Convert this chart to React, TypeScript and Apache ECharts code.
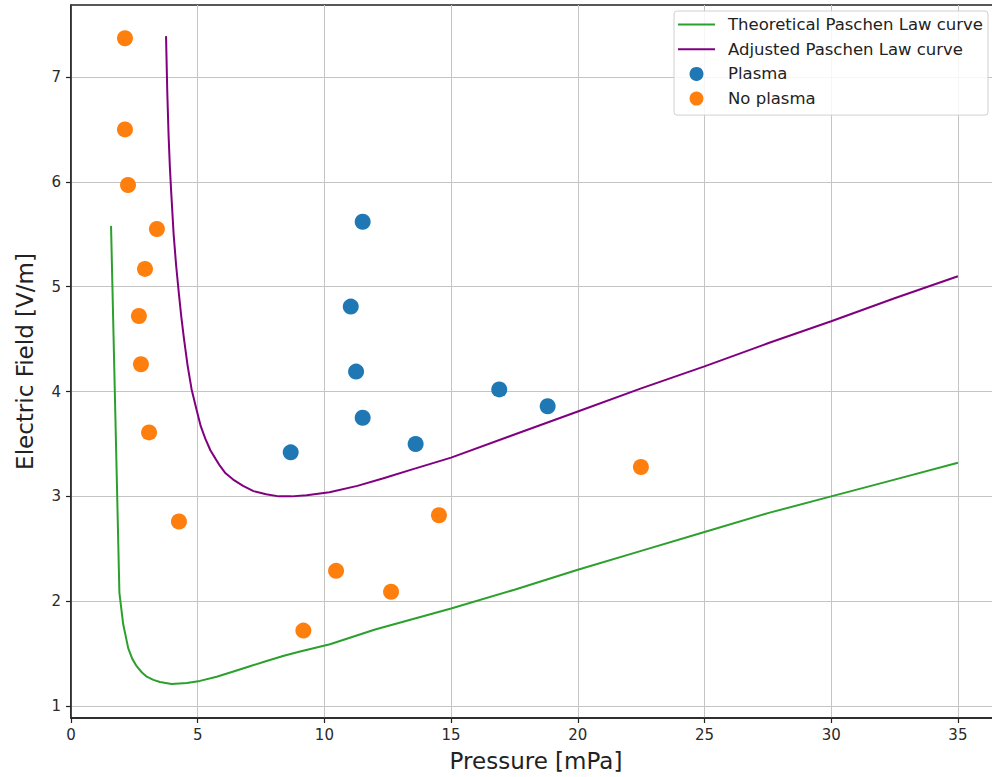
import React, { useEffect, useRef } from "react";
import * as echarts from "echarts";

// Theoretical Paschen Law curve (pressure in mPa, field in V/m)
const theoreticalX = [1.58, 1.91, 2.06, 2.26, 2.42, 2.59, 2.8, 2.99, 3.25, 3.51, 3.97, 4.57, 5.09, 5.75, 6.41, 7.06, 7.72, 8.4, 9.04, 10.22, 12.0, 15.0, 17.5, 20.0, 22.5, 25.0, 27.5, 30.0, 32.5, 35.0];
const theoreticalY = [5.58, 2.08, 1.78, 1.55, 1.45, 1.38, 1.32, 1.28, 1.25, 1.23, 1.21, 1.22, 1.24, 1.28, 1.33, 1.38, 1.43, 1.48, 1.52, 1.59, 1.73, 1.93, 2.11, 2.3, 2.48, 2.66, 2.84, 3.0, 3.16, 3.32];

// Adjusted Paschen Law curve
const adjustedX = [3.75, 3.8, 3.85, 3.9, 3.95, 4.05, 4.15, 4.25, 4.35, 4.45, 4.6, 4.76, 4.95, 5.12, 5.3, 5.5, 5.7, 5.88, 6.1, 6.4, 6.79, 7.2, 7.7, 8.2, 8.7, 9.3, 10.2, 11.3, 12.3, 13.5, 15.0, 17.5, 20.0, 22.5, 25.0, 27.5, 30.0, 32.5, 35.0];
const adjustedY = [7.39, 6.85, 6.45, 6.15, 5.92, 5.5, 5.2, 4.95, 4.72, 4.52, 4.25, 4.02, 3.83, 3.67, 3.55, 3.44, 3.36, 3.29, 3.22, 3.16, 3.1, 3.05, 3.02, 3.0, 3.0, 3.01, 3.04, 3.1, 3.17, 3.26, 3.37, 3.59, 3.81, 4.03, 4.24, 4.46, 4.67, 4.89, 5.1];

// Plasma observations
const plasmaX = [11.51, 11.04, 11.25, 11.51, 8.67, 13.6, 16.9, 18.81];
const plasmaY = [5.62, 4.81, 4.19, 3.75, 3.42, 3.5, 4.02, 3.86];

// No plasma observations
const noPlasmaX = [2.13, 2.13, 2.25, 3.39, 2.92, 2.68, 2.76, 3.08, 4.26, 9.17, 10.46, 12.63, 14.52, 22.49];
const noPlasmaY = [7.37, 6.5, 5.97, 5.55, 5.17, 4.72, 4.26, 3.61, 2.76, 1.72, 2.29, 2.09, 2.82, 3.28];

const seriesNames = ["Theoretical Paschen Law curve", "Adjusted Paschen Law curve", "Plasma", "No plasma"];

const xTicks = [0, 5, 10, 15, 20, 25, 30, 35];
const yTicks = [1, 2, 3, 4, 5, 6, 7];

const xTitle = "Pressure [mPa]";
const yTitle = "Electric Field [V/m]";

const FONT = "DejaVu Sans";

const zip = (xs: number[], ys: number[]) => xs.map((x, i) => [x, ys[i]]);

export default function App() {
  const ref = useRef<HTMLDivElement>(null);
  useEffect(() => {
    if (!ref.current) return;
    const chart = echarts.init(ref.current, undefined, { renderer: "svg" });
    const lineIcon = "path://M0,0H37V2H0Z";
    const tickStyle = { color: "#222", width: 1.2 };
    chart.setOption({
      animation: false,
      backgroundColor: "#ffffff",
      textStyle: { fontFamily: FONT },
      grid: {
        left: 71,
        top: 5,
        bottom: 57,
        right: 0,
        show: true,
        borderColor: "#222",
        borderWidth: 1.5,
        backgroundColor: "transparent",
      },
      legend: {
        orient: "vertical",
        left: 674,
        top: 11,
        itemWidth: 37,
        itemHeight: 14,
        itemGap: 7.7,
        padding: [5, 5, 8, 4],
        backgroundColor: "rgba(255,255,255,0.85)",
        borderColor: "#d0d0d0",
        borderWidth: 1,
        borderRadius: 3,
        textStyle: { fontSize: 16.5, color: "#222", fontFamily: FONT, padding: [0, 0, 0, 8] },
        data: [
          { name: seriesNames[0], icon: lineIcon },
          { name: seriesNames[1], icon: lineIcon },
          { name: seriesNames[2], icon: "circle" },
          { name: seriesNames[3], icon: "circle" },
        ],
      },
      xAxis: {
        type: "value",
        min: 0,
        max: 36.7,
        name: xTitle,
        nameLocation: "middle",
        nameGap: 31,
        nameTextStyle: { fontSize: 23, color: "#222", fontFamily: FONT },
        axisLine: { show: true, onZero: false, lineStyle: { color: "#222", width: 1.5 } },
        axisTick: { show: true, length: 5, inside: false, lineStyle: tickStyle, customValues: xTicks },
        axisLabel: {
          fontSize: 15,
          color: "#2a2a2a",
          margin: 9,
          fontFamily: FONT,
          customValues: xTicks,
          formatter: (v: number) => String(v),
        },
        splitLine: { show: true, lineStyle: { color: "#c4c4c4", width: 1 } },
      },
      yAxis: {
        type: "value",
        min: 0.886,
        max: 7.687,
        name: yTitle,
        nameLocation: "middle",
        nameGap: 35,
        nameTextStyle: { fontSize: 23, color: "#222", fontFamily: FONT },
        axisLine: { show: true, onZero: false, lineStyle: { color: "#222", width: 1.5 } },
        axisTick: { show: true, length: 5, inside: false, lineStyle: tickStyle, customValues: yTicks },
        axisLabel: {
          fontSize: 15,
          color: "#2a2a2a",
          margin: 10,
          fontFamily: FONT,
          customValues: yTicks,
          formatter: (v: number) => String(v),
        },
        splitLine: { show: true, lineStyle: { color: "#c4c4c4", width: 1 } },
      },
      series: [
        {
          name: seriesNames[0],
          type: "line",
          data: zip(theoreticalX, theoreticalY),
          showSymbol: false,
          symbol: "none",
          lineStyle: { color: "#2ca02c", width: 2 },
          itemStyle: { color: "#2ca02c" },
          z: 2,
        },
        {
          name: seriesNames[1],
          type: "line",
          data: zip(adjustedX, adjustedY),
          showSymbol: false,
          symbol: "none",
          lineStyle: { color: "#800080", width: 2 },
          itemStyle: { color: "#800080" },
          z: 2,
        },
        {
          name: seriesNames[2],
          type: "scatter",
          data: zip(plasmaX, plasmaY),
          symbolSize: 16,
          itemStyle: { color: "#1f77b4", opacity: 1 },
          z: 3,
        },
        {
          name: seriesNames[3],
          type: "scatter",
          data: zip(noPlasmaX, noPlasmaY),
          symbolSize: 16,
          itemStyle: { color: "#ff7f0e", opacity: 1 },
          z: 3,
        },
      ],
    });
    return () => chart.dispose();
  }, []);
  return (
    <div
      ref={ref}
      style={{ position: "fixed", left: 0, top: 0, width: 1001, height: 777, background: "#fff" }}
    />
  );
}
